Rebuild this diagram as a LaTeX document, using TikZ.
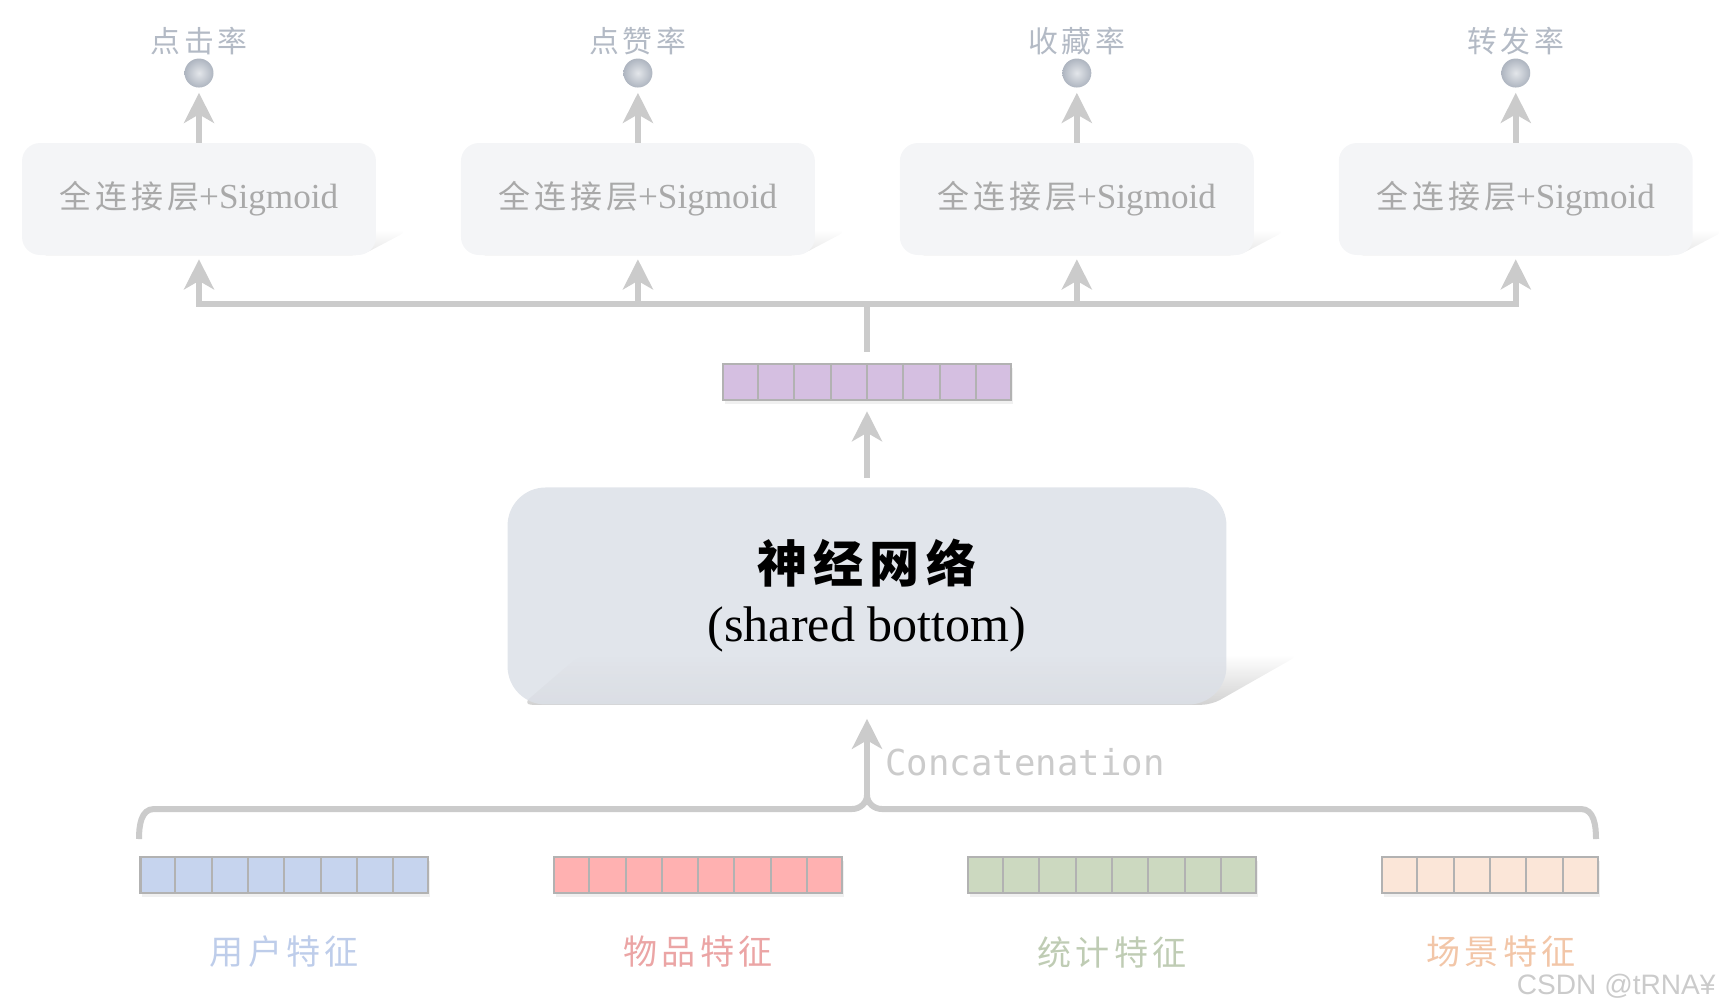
\documentclass[tikz,border=0pt]{standalone}
\usepackage{fontspec}
\setmainfont{Liberation Serif}
\newfontfamily\cjk[LetterSpace=12]{Noto Sans CJK SC}
\newfontfamily\monofont{DejaVu Sans Mono}
\newfontfamily\wmfont{Liberation Sans}
\usetikzlibrary{arrows.meta,positioning,calc,backgrounds,shadows,fadings}

\definecolor{linegray}{HTML}{CBCBCB}
\definecolor{ratetext}{HTML}{B3BAC5}
\definecolor{ballin}{HTML}{E3E6EA}
\definecolor{ballout}{HTML}{AEB5C0}
\definecolor{fcfill}{HTML}{F4F5F7}
\definecolor{fctext}{HTML}{A9A9A9}
\definecolor{netfill}{HTML}{DCE0E7}
\definecolor{cellgray}{HTML}{B2B2B2}
\definecolor{purplecell}{HTML}{D5BFE1}
\definecolor{bluecell}{HTML}{C6D4EE}
\definecolor{redcell}{HTML}{FFB1B1}
\definecolor{greencell}{HTML}{CCD9C0}
\definecolor{peachcell}{HTML}{FBE6D8}
\definecolor{bluetext}{HTML}{BECDEA}
\definecolor{redtext}{HTML}{EBA5A5}
\definecolor{greentext}{HTML}{BFCCB4}
\definecolor{peachtext}{HTML}{F2C6A8}
\definecolor{shadowgray}{HTML}{9A9A9A}

\tikzstyle{link} = [draw=linegray, line width=0.12cm]
\tikzstyle{arrow} = [link, -{Stealth[length=0.6cm, width=0.6cm, inset=0.17cm]}]
\tikzstyle{fcbox} = [rectangle, rounded corners=0.36cm, minimum width=7.08cm, minimum height=2.24cm, text centered, fill=fcfill, text=fctext, font=\fontsize{20}{24}\selectfont]
\tikzstyle{netbox} = [rectangle, rounded corners=0.76cm, minimum width=14.38cm, minimum height=4.34cm, align=center, fill=netfill, fill opacity=0.85, text opacity=1, font=\fontsize{28.5}{33.6}\selectfont]
\tikzstyle{rateball} = [circle, minimum size=0.58cm, inner sep=0pt, inner color=ballin, outer color=ballout]
\tikzstyle{ratelabel} = [text=ratetext, font=\cjk\fontsize{17}{20}\selectfont]
\tikzstyle{vecbox} = [rectangle, draw=cellgray, line width=0.05cm, minimum height=0.72cm, inner sep=0pt, drop shadow={shadow xshift=0.04cm, shadow yshift=-0.08cm, opacity=0.12}]
\tikzstyle{cellline} = [draw=cellgray, line width=0.04cm]
\tikzstyle{featlabel} = [font=\cjk\fontsize{19.4}{22}\selectfont]
\tikzstyle{concatlabel} = [text=linegray, inner sep=0pt, font=\monofont\fontsize{20.3}{24}\selectfont]

\newcommand{\fclabel}{{\cjk\fontsize{18.2}{22}\selectfont 全连接层}+Sigmoid}

% cell dividers of a vector node
\newcommand{\cells}[2]{%
  \pgfmathtruncatemacro{\lastcell}{#2-1}
  \foreach \k in {1,...,\lastcell}
    \draw [cellline] ($(#1.north west)!\k/#2!(#1.north east)$) -- ($(#1.south west)!\k/#2!(#1.south east)$);}

% slanted shadow behind a box
\newcommand{\slantshadow}[4]{%
  \begin{scope}[on background layer]
    \fill [shadowgray, opacity=#4, path fading=north, rounded corners=0.2cm]
      ($(#1.south west)+(0.3cm,0)$) -- ($(#1.south east)+(-0.3cm,0)$) -- ($(#1.south east)+(#3,#2)$) -- ($(#1.south west)+(#3,#2)$) -- cycle;
  \end{scope}}

\begin{document}
\begin{tikzpicture}[x=0.02cm, y=-0.02cm, node distance=8.78cm]
\useasboundingbox (0,0) rectangle (1719,1002);

\node (fc1) [fcbox] at (199,199) {\fclabel};
\node (fc2) [fcbox, right of=fc1] {\fclabel};
\node (fc3) [fcbox, right of=fc2] {\fclabel};
\node (fc4) [fcbox, right of=fc3] {\fclabel};

\node (b1) [rateball, above of=fc1, node distance=2.52cm] {};
\node (b2) [rateball, above of=fc2, node distance=2.52cm] {};
\node (b3) [rateball, above of=fc3, node distance=2.52cm] {};
\node (b4) [rateball, above of=fc4, node distance=2.52cm] {};
\node (r1) [ratelabel, above of=b1, node distance=0.64cm] {点击率};
\node (r2) [ratelabel, above of=b2, node distance=0.64cm] {点赞率};
\node (r3) [ratelabel, above of=b3, node distance=0.64cm] {收藏率};
\node (r4) [ratelabel, above of=b4, node distance=0.64cm] {转发率};

\coordinate (bus) at (867,304);
\node (hvec) [vecbox, fill=purplecell, minimum width=5.76cm] at (867,382) {};
\node (net) [netbox, below of=hvec, node distance=4.28cm] {{\cjk\bfseries 神经网络}\\(shared bottom)};

\node (user) [vecbox, fill=bluecell, minimum width=5.76cm, anchor=west] at (139,875) {};
\node (item) [vecbox, fill=redcell, minimum width=5.76cm, right=2.47cm of user] {};
\node (stat) [vecbox, fill=greencell, minimum width=5.76cm, right=2.47cm of item] {};
\node (scene) [vecbox, fill=peachcell, minimum width=4.32cm, right=2.47cm of stat] {};
\cells{hvec}{8}
\cells{user}{8}
\cells{item}{8}
\cells{stat}{8}
\cells{scene}{6}

\node (userl) [featlabel, text=bluetext, below of=user, node distance=1.54cm] {用户特征};
\node (iteml) [featlabel, text=redtext, below of=item, node distance=1.54cm] {物品特征};
\node (statl) [featlabel, text=greentext, below of=stat, node distance=1.54cm] {统计特征};
\node (scenel) [featlabel, text=peachtext, below of=scene, node distance=1.54cm, xshift=0.22cm] {场景特征};

\coordinate (bl) at (139,839);
\coordinate (br) at (1596,839);
\coordinate (tip) at (867,795);
\draw [link] (bl) to[out=90,in=180] ++(15,-30) -- ($(tip)+(-15,14)$) to[out=0,in=-90] (tip) to[out=-90,in=180] ++(15,14) -- ($(br)+(-15,-30)$) to[out=0,in=90] (br);
\node (concat) [concatlabel, anchor=west] at (885,762) {Concatenation};

\draw [arrow, shorten >=0.1cm] (fc1) -- (b1);
\draw [arrow, shorten >=0.1cm] (fc2) -- (b2);
\draw [arrow, shorten >=0.1cm] (fc3) -- (b3);
\draw [arrow, shorten >=0.1cm] (fc4) -- (b4);
\draw [arrow, shorten >=0.08cm] (bus) -| (fc1.south);
\draw [arrow, shorten >=0.08cm] (bus) -| (fc4.south);
\draw [arrow, shorten >=0.08cm] (fc2.south |- bus) -- (fc2.south);
\draw [arrow, shorten >=0.08cm] (fc3.south |- bus) -- (fc3.south);
\draw [link, shorten <=0.22cm] (hvec) -- (bus);
\draw [arrow, shorten <=0.18cm, shorten >=0.2cm] (net) -- (hvec);
\draw [arrow, shorten >=0.28cm] (tip) -- (net);

\slantshadow{fc1}{0.5cm}{0.65cm}{0.25}
\slantshadow{fc2}{0.5cm}{0.65cm}{0.25}
\slantshadow{fc3}{0.5cm}{0.65cm}{0.25}
\slantshadow{fc4}{0.5cm}{0.65cm}{0.25}
\slantshadow{net}{1.0cm}{1.46cm}{0.45}

\node (wm) [text=linegray, inner sep=0pt, anchor=east, font=\wmfont\fontsize{16}{18}\selectfont] at (1716,986) {CSDN @tRNA¥};
\end{tikzpicture}
\end{document}
